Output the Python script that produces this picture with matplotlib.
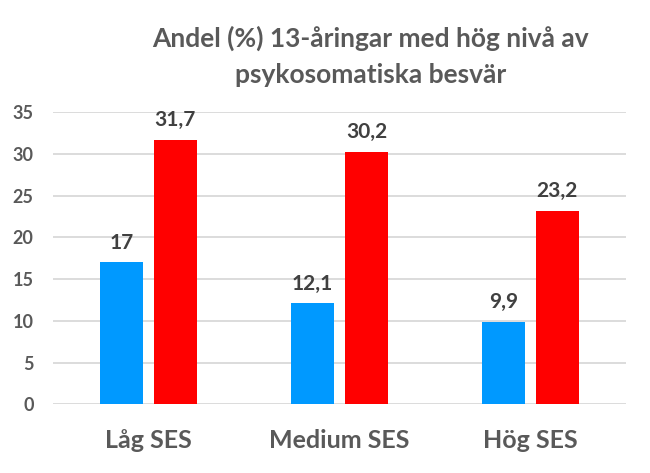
import numpy as np
import matplotlib
matplotlib.use("Agg")
import matplotlib.pyplot as plt

# Data
categories = ["Låg SES", "Medium SES", "Hög SES"]
blue_values = [17, 12.1, 9.9]
red_values = [31.7, 30.2, 23.2]
title_lines = ["Andel (%) 13-åringar med hög nivå av", "psykosomatiska besvär"]

plt.rcParams['font.family'] = ['Lato', 'DejaVu Sans']

fig = plt.figure(figsize=(6.5, 4.73), dpi=100)
ax = fig.add_axes([0.0815, 0.1452, 0.8815, 0.6174])

x = np.arange(len(categories))
width = 0.225
offset = 0.141

bars_b = ax.bar(x - offset, blue_values, width, color="#0099FF", zorder=3)
bars_r = ax.bar(x + offset, red_values, width, color="#FF0000", zorder=3)

# value labels with comma decimal
def fmt(v):
    return str(v).replace(".", ",") if v != int(v) else str(int(v))

for bars, vals in [(bars_b, blue_values), (bars_r, red_values)]:
    for b, v in zip(bars, vals):
        ax.annotate(fmt(v), (b.get_x() + b.get_width() / 2, v),
                    xytext=(0, 10), textcoords="offset points",
                    ha="center", va="baseline", fontsize=15,
                    fontweight="bold", color="#404040")

ax.set_xlim(-0.5, 2.5)
ax.set_ylim(0, 35)
ax.set_yticks(np.arange(0, 36, 5))
ax.set_xticks(x)
ax.set_xticklabels(categories, fontsize=18, fontweight="bold", color="#595959")
ax.tick_params(axis="y", labelsize=13, labelcolor="#595959", length=0, pad=14)
ax.tick_params(axis="x", length=0, pad=18)
for lbl in ax.get_yticklabels():
    lbl.set_fontweight("bold")

ax.grid(axis="y", color="#D9D9D9", linewidth=1.3, zorder=0)
for s in ax.spines.values():
    s.set_visible(False)

# two-line title
fig.text(0.570, 1 - 47 / 473, title_lines[0], ha="center", va="baseline",
         fontsize=19, fontweight="bold", color="#595959")
fig.text(0.570, 1 - 83 / 473, title_lines[1], ha="center", va="baseline",
         fontsize=19, fontweight="bold", color="#595959")

fig.savefig("out.png", dpi=100)
